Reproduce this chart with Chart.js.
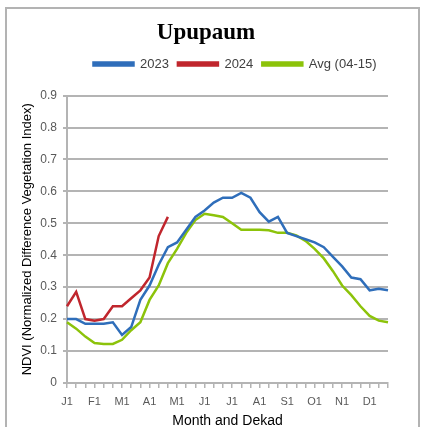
<!DOCTYPE html>
<html>
<head>
<meta charset="utf-8">
<script src="https://cdn.jsdelivr.net/npm/chart.js"></script>
<style>
  html, body { margin: 0; padding: 0; background: #ffffff; }
  #wrap { width: 423px; height: 427px; position: relative; }
</style>
</head>
<body>
<div id="wrap"><canvas id="c" width="423" height="427"></canvas></div>
<script>
const months = ["J", "F", "M", "A", "M", "J", "J", "A", "S", "O", "N", "D"];
const dekads = [];
months.forEach(m => { dekads.push(m + "1", m + "2", m + "3"); });

const series2023 = [0.20, 0.20, 0.185, 0.185, 0.185, 0.19, 0.15, 0.175, 0.26, 0.305, 0.37, 0.425,
                    0.44, 0.48, 0.52, 0.54, 0.565, 0.58, 0.58, 0.595, 0.58, 0.535, 0.505, 0.52,
                    0.47, 0.46, 0.45, 0.44, 0.425, 0.395, 0.365, 0.33, 0.325, 0.29, 0.295, 0.29];
const series2024 = [0.24, 0.285, 0.20, 0.195, 0.20, 0.24, 0.24, 0.265, 0.29, 0.33, 0.46, 0.52];
const seriesAvg = [0.19, 0.17, 0.145, 0.125, 0.122, 0.122, 0.135, 0.165, 0.19, 0.26, 0.305, 0.375,
                   0.42, 0.47, 0.51, 0.53, 0.525, 0.52, 0.50, 0.48, 0.48, 0.48, 0.478, 0.47,
                   0.47, 0.462, 0.445, 0.42, 0.39, 0.35, 0.305, 0.275, 0.24, 0.21, 0.195, 0.19];
const yTicks = [0, 0.1, 0.2, 0.3, 0.4, 0.5, 0.6, 0.7, 0.8, 0.9];

const frame = {
  id: 'frame',
  beforeDraw(chart) {
    const ctx = chart.ctx;
    ctx.save();
    ctx.strokeStyle = '#b3b3b3';
    ctx.lineWidth = 2;
    ctx.strokeRect(6, 8, 413, 440);
    ctx.restore();
  }
};

const legendGap = {
  id: 'legendGap',
  beforeInit(chart) {
    const orig = chart.legend.fit;
    chart.legend.fit = function () {
      orig.call(this);
      this.height += 15;
    };
  },
  afterLayout(chart) {
    chart.legend.left += 35;
    chart.legend.right += 35;
    chart.titleBlock.left += 6;
    chart.titleBlock.right += 6;
  }
};

const gridGray = '#b4b4b4';
const textGray = '#595959';

new Chart(document.getElementById('c'), {
  type: 'line',
  data: {
    labels: dekads,
    datasets: [
      { label: '2023', data: series2023, borderColor: '#2f6eba', backgroundColor: '#2f6eba' },
      { label: '2024', data: series2024, borderColor: '#c0262d', backgroundColor: '#c0262d' },
      { label: 'Avg (04-15)', data: seriesAvg, borderColor: '#8cc30a', backgroundColor: '#8cc30a' }
    ]
  },
  options: {
    responsive: false,
    animation: false,
    devicePixelRatio: 1,
    layout: { padding: { left: 12, right: 35, top: 0, bottom: 0 } },
    elements: {
      point: { radius: 0 },
      line: { borderWidth: 2.5, tension: 0 }
    },
    plugins: {
      title: {
        display: true,
        text: 'Upupaum',
        color: '#000000',
        font: { family: 'Liberation Serif', size: 23, weight: 'bold' },
        padding: { top: 19, bottom: 2 }
      },
      legend: {
        display: true,
        labels: {
          boxWidth: 40,
          boxHeight: 3,
          color: '#404040',
          font: { family: 'Liberation Sans', size: 13 },
          padding: 9
        }
      },
      tooltip: { enabled: false }
    },
    scales: {
      x: {
        type: 'category',
        offset: false,
        grid: { display: true, drawOnChartArea: false, drawTicks: true, tickLength: 5, color: gridGray, lineWidth: 1.5 },
        border: { display: true, color: gridGray, width: 2 },
        ticks: {
          autoSkip: false,
          maxRotation: 0,
          minRotation: 0,
          color: textGray,
          font: { family: 'Liberation Sans', size: 11 },
          padding: 7,
          callback: function (val, idx) { return idx % 3 === 0 ? dekads[idx] : ''; }
        },
        title: {
          display: true,
          text: 'Month and Dekad',
          color: '#000000',
          font: { family: 'Liberation Sans', size: 14, lineHeight: 0.85 },
          padding: { top: 0, bottom: 0 }
        }
      },
      y: {
        min: 0,
        max: 0.9,
        afterBuildTicks: function (scale) { scale.ticks = yTicks.map(v => ({ value: v })); },
        afterFit: function (scale) { scale.width = 55; },
        grid: { color: gridGray, lineWidth: 2, tickLength: 4, drawTicks: true },
        border: { display: true, color: gridGray, width: 2 },
        ticks: {
          color: textGray,
          font: { family: 'Liberation Sans', size: 12 },
          padding: 6,
          callback: function (v) { return v === 0 ? '0' : v.toFixed(1); }
        },
        title: {
          display: true,
          text: 'NDVI (Normalized Difference Vegetation Index)',
          color: '#000000',
          font: { family: 'Liberation Sans', size: 13 },
          padding: { top: 8, bottom: 2 }
        }
      }
    }
  },
  plugins: [frame, legendGap]
});
</script>
</body>
</html>
